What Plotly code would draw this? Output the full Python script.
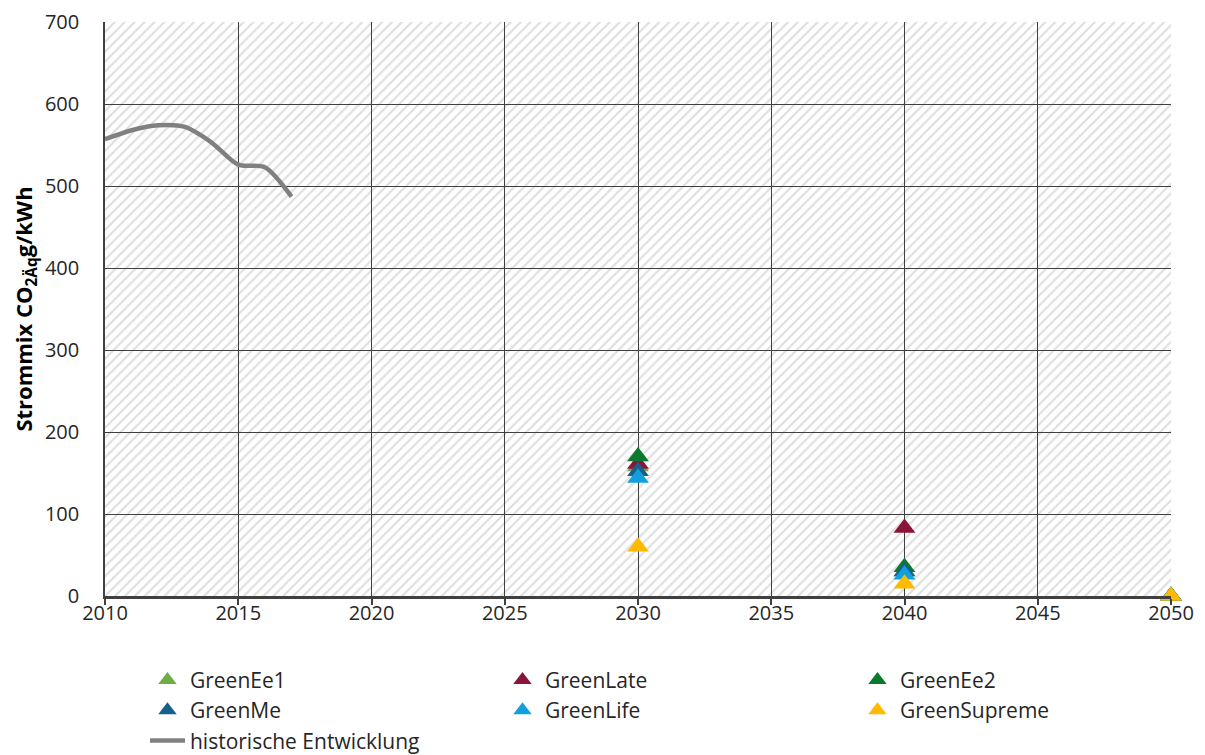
import plotly.graph_objects as go

hist_years = [2010, 2011, 2012, 2013, 2014, 2015, 2016, 2017]
hist_values = [557, 568, 574, 572, 553, 526, 523, 487]

scen_years = [2030, 2040, 2050]
scenarios = ["GreenEe1", "GreenLate", "GreenEe2", "GreenMe", "GreenLife", "GreenSupreme"]
scen_values = {
    "GreenEe1": [158, 30, 0],
    "GreenLate": [161, 83, 0],
    "GreenEe2": [170, 35, 0],
    "GreenMe": [152, 30, 0],
    "GreenLife": [144, 26, 0],
    "GreenSupreme": [60, 15, 0],
}
scen_colors = {
    "GreenEe1": "#70ad47",
    "GreenLate": "#8a1538",
    "GreenEe2": "#0b7a2e",
    "GreenMe": "#17608c",
    "GreenLife": "#12a0dc",
    "GreenSupreme": "#ffba00",
}

x_range = [2010, 2050]
y_range = [0, 700]
x_ticks = list(range(2010, 2051, 5))
y_ticks = list(range(0, 701, 100))

FONT = "Open Sans"
TXT = "#262626"

fig = go.Figure()

# hatched plot background (lower subplot, so the grid of the upper one stays visible)
fig.add_trace(go.Scatter(
    x=[x_range[0], x_range[1], x_range[1], x_range[0], x_range[0]],
    y=[y_range[0], y_range[0], y_range[1], y_range[1], y_range[0]],
    mode="none", fill="toself", fillcolor="white",
    fillpattern=dict(shape="/", fgcolor="#bdbdbd", bgcolor="white", size=7, solidity=0.3),
    showlegend=False, hoverinfo="skip", xaxis="x", yaxis="y",
))

fig.add_trace(go.Scatter(
    x=hist_years, y=hist_values, mode="lines",
    line=dict(color="#808080", width=4.5, shape="spline", smoothing=0.8),
    name="historische Entwicklung", legendrank=7, xaxis="x2", yaxis="y2",
))

for i, s in enumerate(scenarios):
    fig.add_trace(go.Scatter(
        x=scen_years, y=scen_values[s], mode="markers", name=s,
        marker=dict(symbol="triangle-up", size=19, color=scen_colors[s], line=dict(width=0)),
        legendrank=i + 1, cliponaxis=False, xaxis="x2", yaxis="y2",
    ))

fig.update_layout(
    width=1197, height=747,
    margin=dict(l=97, r=34, t=14, b=159, autoexpand=False),
    paper_bgcolor="white", plot_bgcolor="rgba(0,0,0,0)",
    font=dict(family=FONT, size=20, color=TXT),
    showlegend=True,
    legend=dict(
        orientation="h", xref="paper", x=0.0375, xanchor="left",
        yref="container", y=0.1275, yanchor="top",
        entrywidth=305, entrywidthmode="pixels",
        font=dict(family=FONT, size=21, color=TXT),
        traceorder="normal", tracegroupgap=0, itemwidth=35,
        bgcolor="rgba(0,0,0,0)",
    ),
    xaxis=dict(range=x_range, visible=False, domain=[0, 1], anchor="y"),
    yaxis=dict(range=y_range, visible=False, domain=[0, 1], anchor="x"),
    xaxis2=dict(
        range=x_range, domain=[0, 1], anchor="y2",
        tickvals=x_ticks, ticktext=[str(t) for t in x_ticks],
        showgrid=True, gridcolor="#404040", gridwidth=1,
        showline=True, linecolor="#404040", linewidth=2.5,
        ticks="outside", ticklen=6, tickcolor="#404040", tickwidth=1.5,
        zeroline=False, tickfont=dict(size=20, color=TXT),
        ticklabelstandoff=-9, automargin=False,
    ),
    yaxis2=dict(
        range=y_range, domain=[0, 1], anchor="x2",
        tickvals=y_ticks,
        showgrid=True, gridcolor="#404040", gridwidth=1,
        showline=True, linecolor="#404040", linewidth=1.5,
        zeroline=False, tickfont=dict(size=20, color=TXT), ticks="",
        ticklabelstandoff=20, automargin=False,
        title=dict(text="<b>Strommix CO<sub>2Äq</sub>g/kWh</b>", font=dict(size=22, color="black"), standoff=18),
    ),
)

fig.write_html("out.html")
